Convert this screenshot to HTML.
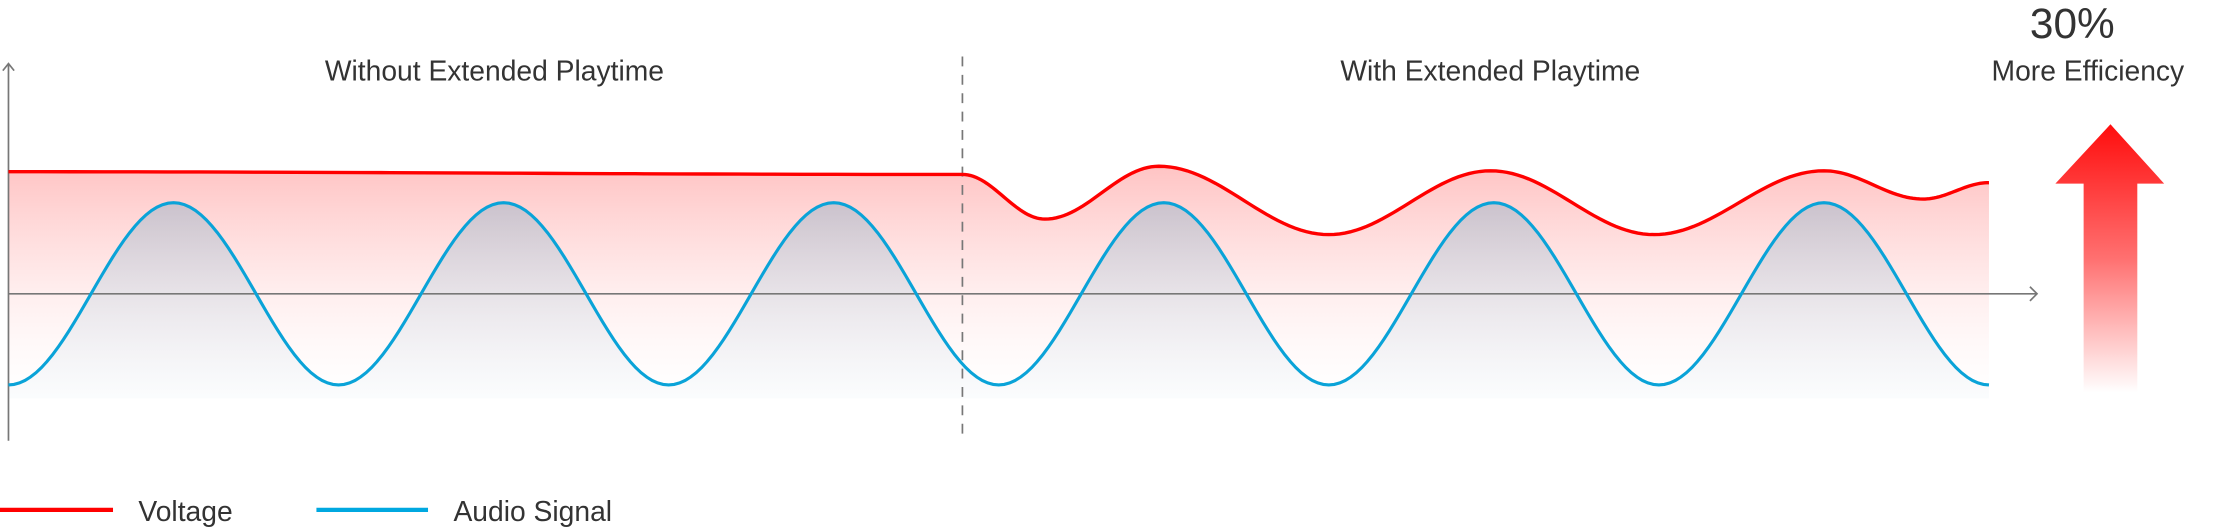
<!DOCTYPE html>
<html><head><meta charset="utf-8"><style>
html,body{margin:0;padding:0;background:#fff;width:2215px;height:528px;overflow:hidden}
svg{display:block}
text{font-family:"Liberation Sans",sans-serif;fill:#333}
</style></head><body>
<svg id="chart" width="2215" height="528" viewBox="0 0 1568 373.8" preserveAspectRatio="none" xmlns="http://www.w3.org/2000/svg">
<defs>
<linearGradient id="redFill" gradientUnits="userSpaceOnUse" x1="0" y1="118" x2="0" y2="282">
<stop offset="0" stop-color="#ffb0b0" stop-opacity="0.75"/><stop offset="0.55" stop-color="#ffe3e3" stop-opacity="0.6"/><stop offset="1" stop-color="#fff" stop-opacity="0.3"/></linearGradient>
<linearGradient id="blueFill" gradientUnits="userSpaceOnUse" x1="0" y1="143" x2="0" y2="282">
<stop offset="0" stop-color="#9fb6c9" stop-opacity="0.55"/><stop offset="1" stop-color="#e8f0f6" stop-opacity="0.2"/></linearGradient>
<linearGradient id="arrowFill" x1="0" y1="0" x2="0" y2="1">
<stop offset="0" stop-color="#ff0d0d"/><stop offset="0.5" stop-color="#ff7070"/><stop offset="1" stop-color="#fff"/></linearGradient>
</defs>
<g id="plot"></g>
<text x="350" y="57" font-size="20" text-anchor="middle">Without Extended Playtime</text>
<text x="1055" y="57" font-size="20" text-anchor="middle">With Extended Playtime</text>
<text x="1467" y="27" font-size="30" text-anchor="middle">30%</text>
<text x="1478" y="57" font-size="20" text-anchor="middle">More Efficiency</text>
<polygon points="1494,88 1532,130 1513,130 1513,278 1475,278 1475,130 1455,130" fill="url(#arrowFill)"/>
<g>
<line x1="0" y1="361" x2="80" y2="361" stroke="#ff0000" stroke-width="3"/>
<text x="98" y="369" font-size="20">Voltage</text>
<line x1="224" y1="361" x2="303" y2="361" stroke="#00a8e0" stroke-width="3"/>
<text x="321" y="369" font-size="20">Audio Signal</text>
</g>
</svg>
<script>
const audioT = [0,1,2,3,4,5,6,7,8,9,10,11,12];
const audioV = [-1,1,-1,1,-1,1,-1,1,-1,1,-1,1,-1];
const voltT = [0,5.78,6.28,6.97,8,8.98,9.97,11,11.6,12];
const voltV = [1.34,1.31,0.82,1.40,0.65,1.35,0.65,1.35,1.04,1.22];
const dividerT = 5.78;

const X0=6, X1=1408, T0=0, T1=12;
const xs = t => X0 + (t-T0)/(T1-T0)*(X1-X0);
const ys = v => 208 - v*64.5;
const NS='http://www.w3.org/2000/svg';
const plot=document.getElementById('plot');
function mk(tag,attrs){const e=document.createElementNS(NS,tag);for(const k in attrs)e.setAttribute(k,attrs[k]);plot.appendChild(e);return e;}
function curve(T,V){
  let d='';
  for(let i=0;i<T.length-1;i++){
    const n=30;
    for(let k=(i?1:0);k<=n;k++){
      const s=k/n;
      const t=T[i]+(T[i+1]-T[i])*s;
      const v=V[i]+(V[i+1]-V[i])*(1-Math.cos(Math.PI*s))/2;
      d+=(d?' L':'M')+xs(t).toFixed(2)+','+ys(v).toFixed(2);
    }
  }
  return d;
}
const bottom=282;
const vd=curve(voltT,voltV), ad=curve(audioT,audioV);
const vf=mk('path',{d:vd+` L${xs(T1)},${bottom} L${xs(T0)},${bottom} Z`,fill:'url(#redFill)'});


const af=mk('path',{d:ad+` L${xs(T1)},${bottom} L${xs(T0)},${bottom} Z`,fill:'url(#blueFill)'});


const ya=mk('path',{d:'M6,312 L6,45 M2,50 L6,45 L10,50',stroke:'#777',fill:'none','stroke-width':1.2});


const xa=mk('path',{d:'M6,208 L1442,208 M1437,203 L1442,208 L1437,213',stroke:'#777',fill:'none','stroke-width':1.2});


const dv=mk('line',{x1:xs(dividerT),y1:40,x2:xs(dividerT),y2:312,stroke:'#777','stroke-width':1.2,'stroke-dasharray':'7,6'});


const al=mk('path',{d:ad,fill:'none',stroke:'#0aa3d8','stroke-width':2.2});


const vl=mk('path',{d:vd,fill:'none',stroke:'#ff0000','stroke-width':2.4});


</script>
</body></html>
